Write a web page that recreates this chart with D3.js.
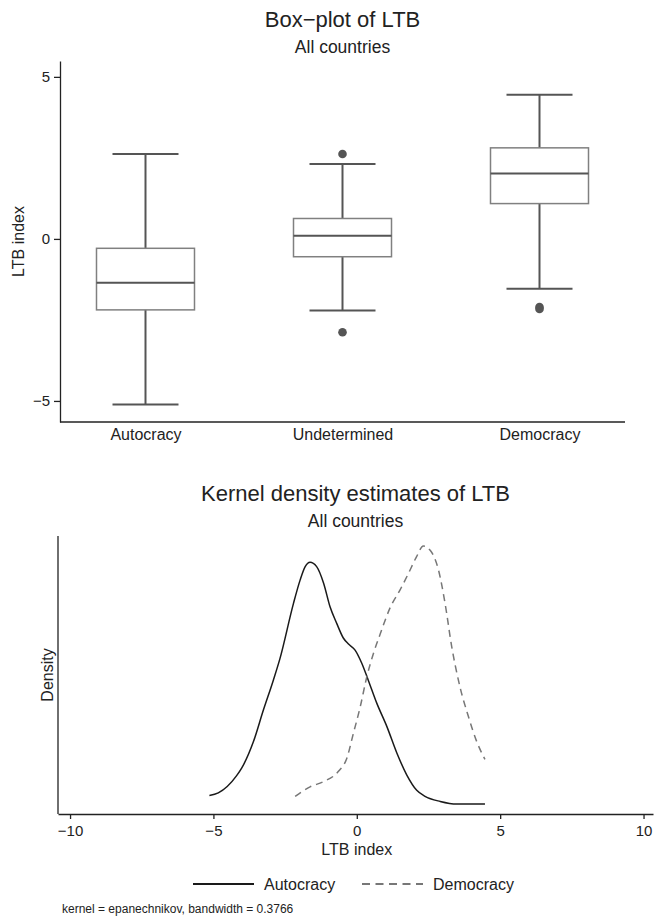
<!DOCTYPE html>
<html>
<head>
<meta charset="utf-8">
<script src="https://cdn.jsdelivr.net/npm/d3@7"></script>
<style>
  body { margin: 0; background: #fff; }
  svg { font-family: "Liberation Sans", Arial, sans-serif; }
  .axis path, .axis line { stroke: #222; stroke-width: 1.3; }
  .axis text { fill: #222; }
</style>
</head>
<body>
<div id="chart"></div>
<script>
// box plot summary
var categories = ["Autocracy", "Undetermined", "Democracy"];
var whiskerLow = [-5.11, -2.21, -1.54];
var q1 = [-2.19, -0.55, 1.09];
var median = [-1.35, 0.10, 2.02];
var q3 = [-0.29, 0.63, 2.81];
var whiskerHigh = [2.62, 2.31, 4.45];
var outliers = [[], [2.62, -2.88], [-2.10, -2.16]];
var boxTicks = [-5, 0, 5];

// kernel density curves
var autoX = [-5.14, -4.83, -4.19, -4.01, -3.61, -3.26, -2.91, -2.68, -2.21, -1.98, -1.80, -1.63, -1.40, -1.16, -0.93, -0.70, -0.47, -0.29, -0.06, 0.17, 0.40, 0.70, 1.05, 1.40, 1.74, 2.09, 2.38, 2.91, 3.49, 4.47];
var autoD = [0.010, 0.013, 0.033, 0.042, 0.072, 0.109, 0.144, 0.169, 0.233, 0.260, 0.276, 0.281, 0.276, 0.257, 0.229, 0.210, 0.193, 0.186, 0.179, 0.164, 0.144, 0.117, 0.090, 0.059, 0.034, 0.016, 0.009, 0.003, 0.000, 0.000];
var demoX = [-2.15, -1.63, -1.16, -0.64, -0.35, -0.12, 0.12, 0.35, 0.58, 0.81, 1.16, 1.51, 1.80, 2.09, 2.32, 2.56, 2.85, 3.08, 3.31, 3.60, 3.89, 4.19, 4.47];
var demoD = [0.009, 0.020, 0.026, 0.038, 0.053, 0.082, 0.113, 0.148, 0.175, 0.197, 0.228, 0.249, 0.268, 0.288, 0.300, 0.295, 0.272, 0.233, 0.183, 0.136, 0.102, 0.072, 0.052];
var densTicks = [-10, -5, 0, 5, 10];
var legendLabels = ["Autocracy", "Democracy"];

var width = 654;
var height = 922;

var svg = d3.select("#chart")
  .append("svg")
  .attr("width", width)
  .attr("height", height);

// ---------- box plot ----------
var box = { left: 60, right: 625, top: 61, bottom: 422 };

var xBox = d3.scalePoint()
  .domain(categories)
  .range([box.left, box.right])
  .padding(0.434);

var yBox = d3.scaleLinear()
  .domain([-5.65, 5.49])
  .range([box.bottom, box.top]);

svg.append("text")
  .attr("x", (box.left + box.right) / 2)
  .attr("y", 27)
  .attr("text-anchor", "middle")
  .style("font-size", "22px")
  .attr("fill", "#222")
  .text("Box\u2212plot of LTB");

svg.append("text")
  .attr("x", (box.left + box.right) / 2)
  .attr("y", 53)
  .attr("text-anchor", "middle")
  .style("font-size", "17.5px")
  .attr("fill", "#222")
  .text("All countries");

svg.append("g")
  .classed("axis", true)
  .attr("transform", `translate(${box.left}, 0)`)
  .call(d3.axisLeft(yBox).tickValues(boxTicks).tickSizeInner(6).tickSizeOuter(0).tickPadding(4))
  .call(g => g.selectAll("text").style("font-size", "15px"));

svg.append("g")
  .classed("axis", true)
  .attr("transform", `translate(0, ${box.bottom})`)
  .call(d3.axisBottom(xBox).tickSize(0).tickPadding(7))
  .call(g => g.select(".domain").attr("d", `M${box.left},0H${box.right}`))
  .call(g => g.selectAll("text").style("font-size", "16px"));

svg.append("text")
  .attr("transform", "rotate(-90)")
  .attr("x", -(box.top + box.bottom) / 2)
  .attr("y", 24)
  .attr("text-anchor", "middle")
  .style("font-size", "16px")
  .attr("fill", "#222")
  .text("LTB index");

var boxW = 98, capW = 66;
var darkGray = "#555";

categories.forEach(function(c, i) {
  var cx = xBox(c);
  var g = svg.append("g");
  // whiskers
  g.append("line")
    .attr("x1", cx).attr("x2", cx)
    .attr("y1", yBox(whiskerHigh[i])).attr("y2", yBox(q3[i]))
    .attr("stroke", darkGray).attr("stroke-width", 2);
  g.append("line")
    .attr("x1", cx).attr("x2", cx)
    .attr("y1", yBox(q1[i])).attr("y2", yBox(whiskerLow[i]))
    .attr("stroke", darkGray).attr("stroke-width", 2);
  [whiskerHigh[i], whiskerLow[i]].forEach(function(v) {
    g.append("line")
      .attr("x1", cx - capW / 2).attr("x2", cx + capW / 2)
      .attr("y1", yBox(v)).attr("y2", yBox(v))
      .attr("stroke", darkGray).attr("stroke-width", 2);
  });
  // box
  g.append("rect")
    .attr("x", cx - boxW / 2)
    .attr("y", yBox(q3[i]))
    .attr("width", boxW)
    .attr("height", yBox(q1[i]) - yBox(q3[i]))
    .attr("fill", "none")
    .attr("stroke", "#808080")
    .attr("stroke-width", 1.5);
  g.append("line")
    .attr("x1", cx - boxW / 2).attr("x2", cx + boxW / 2)
    .attr("y1", yBox(median[i])).attr("y2", yBox(median[i]))
    .attr("stroke", darkGray).attr("stroke-width", 2);
  // outside values
  outliers[i].forEach(function(v) {
    g.append("circle")
      .attr("cx", cx)
      .attr("cy", yBox(v))
      .attr("r", 4.3)
      .attr("fill", darkGray);
  });
});

// ---------- kernel density ----------
var dens = { left: 58, right: 653, top: 536, bottom: 814 };

var xDens = d3.scaleLinear()
  .domain([-10.42, 10.33])
  .range([dens.left, dens.right]);

var yDens = d3.scaleLinear()
  .domain([-0.0116, 0.3116])
  .range([dens.bottom, dens.top]);

var midX = (dens.left + dens.right) / 2;

svg.append("text")
  .attr("x", midX)
  .attr("y", 501)
  .attr("text-anchor", "middle")
  .style("font-size", "22px")
  .attr("fill", "#222")
  .text("Kernel density estimates of LTB");

svg.append("text")
  .attr("x", midX)
  .attr("y", 527)
  .attr("text-anchor", "middle")
  .style("font-size", "17.5px")
  .attr("fill", "#222")
  .text("All countries");

svg.append("g")
  .classed("axis", true)
  .attr("transform", `translate(0, ${dens.bottom})`)
  .call(d3.axisBottom(xDens).tickValues(densTicks).tickSizeInner(5).tickSizeOuter(0).tickPadding(6))
  .call(g => g.selectAll("text").style("font-size", "15px"));

svg.append("line")
  .classed("axis", true)
  .attr("x1", dens.left).attr("x2", dens.left)
  .attr("y1", dens.top).attr("y2", dens.bottom)
  .attr("stroke", "#222").attr("stroke-width", 1.3);

svg.append("text")
  .attr("transform", "rotate(-90)")
  .attr("x", -(dens.top + dens.bottom) / 2)
  .attr("y", 53)
  .attr("text-anchor", "middle")
  .style("font-size", "16px")
  .attr("fill", "#222")
  .text("Density");

svg.append("text")
  .attr("x", xDens(0))
  .attr("y", 855)
  .attr("text-anchor", "middle")
  .style("font-size", "16px")
  .attr("fill", "#222")
  .text("LTB index");

var line = d3.line()
  .x(d => xDens(d[0]))
  .y(d => yDens(d[1]))
  .curve(d3.curveMonotoneX);

var autoPts = autoX.map((x, i) => [x, autoD[i]]);
var demoPts = demoX.map((x, i) => [x, demoD[i]]);

svg.append("path")
  .attr("d", line(autoPts))
  .attr("fill", "none")
  .attr("stroke", "#1a1a1a")
  .attr("stroke-width", 1.5);

svg.append("path")
  .attr("d", line(demoPts))
  .attr("fill", "none")
  .attr("stroke", "#777")
  .attr("stroke-width", 1.5)
  .attr("stroke-dasharray", "7,5");

// legend
var legendY = 884;
var legendItems = [
  { label: legendLabels[0], x: 193, color: "#1a1a1a", dash: null },
  { label: legendLabels[1], x: 362, color: "#777", dash: "8,5.5" }
];
legendItems.forEach(function(d) {
  svg.append("line")
    .attr("x1", d.x).attr("x2", d.x + 61)
    .attr("y1", legendY).attr("y2", legendY)
    .attr("stroke", d.color)
    .attr("stroke-width", 1.8)
    .attr("stroke-dasharray", d.dash);
  svg.append("text")
    .attr("x", d.x + 71)
    .attr("y", legendY + 6)
    .style("font-size", "16px")
    .attr("fill", "#222")
    .text(d.label);
});

svg.append("text")
  .attr("x", 62)
  .attr("y", 913)
  .style("font-size", "12px")
  .attr("fill", "#222")
  .text("kernel = epanechnikov, bandwidth = 0.3766");
</script>
</body>
</html>
